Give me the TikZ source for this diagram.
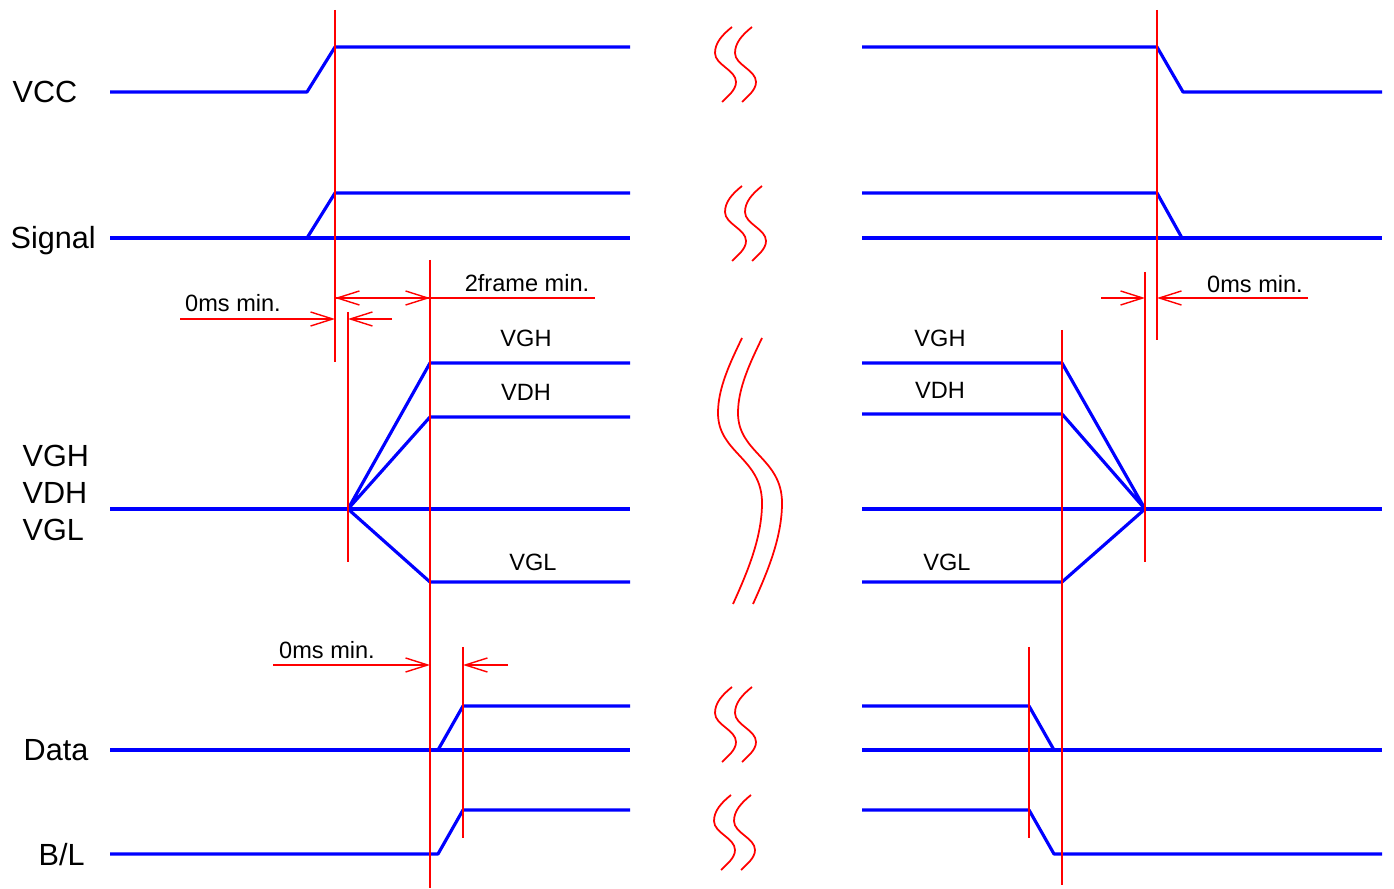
\documentclass[tikz,border=0pt]{standalone}
\usepackage{fontspec}
\setmainfont{Liberation Sans}
\usepackage{tikz}
\usetikzlibrary{arrows.meta}
\tikzset{
	sig/.style = {draw=blue, line width=0.9pt, line join=round},
	guide/.style = {draw=red, line width=0.4pt},
	dimline/.style = {draw=red, line width=0.4pt, -{Straight Barb[length=6.3pt,width=4pt]}},
	brk/.style = {draw=red, line width=0.5pt},
	biglabel/.style = {font=\fontsize{8.7}{10}\selectfont, inner sep=0pt, anchor=base west},
	smalllabel/.style = {font=\fontsize{6.7}{8}\selectfont, inner sep=0pt, anchor=base},
}

\begin{document}
\begin{tikzpicture}[x=0.01cm,y=-0.01cm]
	\useasboundingbox (0,0) rectangle (1394,889);

	% Signal names
	\node[biglabel] (vcc) at (12,103) {VCC};
	\node[biglabel] (signal) at (10,249) {Signal};
	\node[biglabel] (vgh) at (22,467) {VGH};
	\node[biglabel] (vdh) at (22,504) {VDH};
	\node[biglabel] (vgl) at (22,541) {VGL};
	\node[biglabel] (data) at (23,761) {Data};
	\node[biglabel] (bl) at (38,866) {B/L};

	% VCC
	\draw[sig] (110,92) -- (307,92) -- (335,47) -- (630,47);
	\draw[sig] (862,47) -- (1157,47) -- (1183,92) -- (1382,92);

	% Signal
	\draw[sig] (110,238) -- (630,238);
	\draw[sig] (307,238) -- (335,193) -- (630,193);
	\draw[sig] (862,193) -- (1157,193) -- (1182,238);
	\draw[sig] (862,238) -- (1382,238);

	% VGH / VDH / VGL (power on)
	\draw[sig] (110,509) -- (630,509);
	\draw[sig] (630,363) -- (430,363) -- (348,509) -- (430,417) -- (630,417);
	\draw[sig] (348,509) -- (430,582) -- (630,582);
	% VGH / VDH / VGL (power off)
	\draw[sig] (862,509) -- (1382,509);
	\draw[sig] (862,363) -- (1062,363) -- (1145,509) -- (1062,414) -- (862,414);
	\draw[sig] (862,582) -- (1062,582) -- (1145,509);

	\node[smalllabel] (vghon) at (526,346.5) {VGH};
	\node[smalllabel] (vdhon) at (526,400.5) {VDH};
	\node[smalllabel] (vglon) at (533,570.5) {VGL};
	\node[smalllabel] (vghoff) at (940,346.5) {VGH};
	\node[smalllabel] (vdhoff) at (940,398.5) {VDH};
	\node[smalllabel] (vgloff) at (947,570.5) {VGL};

	% Data
	\draw[sig] (110,750) -- (630,750);
	\draw[sig] (438,750) -- (463,706) -- (630,706);
	\draw[sig] (862,706) -- (1029,706) -- (1054,750);
	\draw[sig] (862,750) -- (1382,750);

	% B/L
	\draw[sig] (110,854) -- (438,854) -- (463,810) -- (630,810);
	\draw[sig] (862,810) -- (1029,810) -- (1054,854) -- (1382,854);

	% Timing guides
	\foreach \gx/\ga/\gb in {335/10/362, 348/312/562, 430/260/888, 463/647/838,
			1157/10/340, 1145/272/562, 1062/330/885, 1029/647/838}
		{   \draw[guide] (\gx,\ga) -- (\gx,\gb);
		}

	% Dimensions
	\draw[dimline] (180,319) -- (335,319);
	\draw[dimline] (392,319) -- (348,319);
	\node[smalllabel] (t1) at (233,311.5) {0ms min.};

	\draw[dimline] (430,298) -- (335,298);
	\draw[dimline] (335,298) -- (430,298);
	\draw[guide] (430,298) -- (595,298);
	\node[smalllabel] (t2) at (527,291.5) {2frame min.};

	\draw[dimline] (1101,298) -- (1145,298);
	\draw[dimline] (1308,298) -- (1157,298);
	\node[smalllabel] (t3) at (1255,292.5) {0ms min.};

	\draw[dimline] (273,665) -- (430,665);
	\draw[dimline] (508,665) -- (463,665);
	\node[smalllabel] (t4) at (327,658.5) {0ms min.};

	% Break marks
	\foreach \bx/\by in {732/27, 742/186, 732/687, 731/795}
		\foreach \dx in {0,20}
			{   \draw[brk, shift={(\bx+\dx,\by)}] (0,0) .. controls (-10,8) and (-17,16) .. (-17,26)
					.. controls (-17,38) and (4,43) .. (4,55)
					.. controls (4,63) and (-4,69) .. (-10,75);
			}
	\foreach \dx in {0,20}
		{   \draw[brk, shift={(742+\dx,338)}] (0,0) .. controls (-12,25) and (-24,50) .. (-24,75)
				.. controls (-24,115) and (20,120) .. (20,165)
				.. controls (20,200) and (5,235) .. (-9,266);
		}
\end{tikzpicture}
\end{document}
